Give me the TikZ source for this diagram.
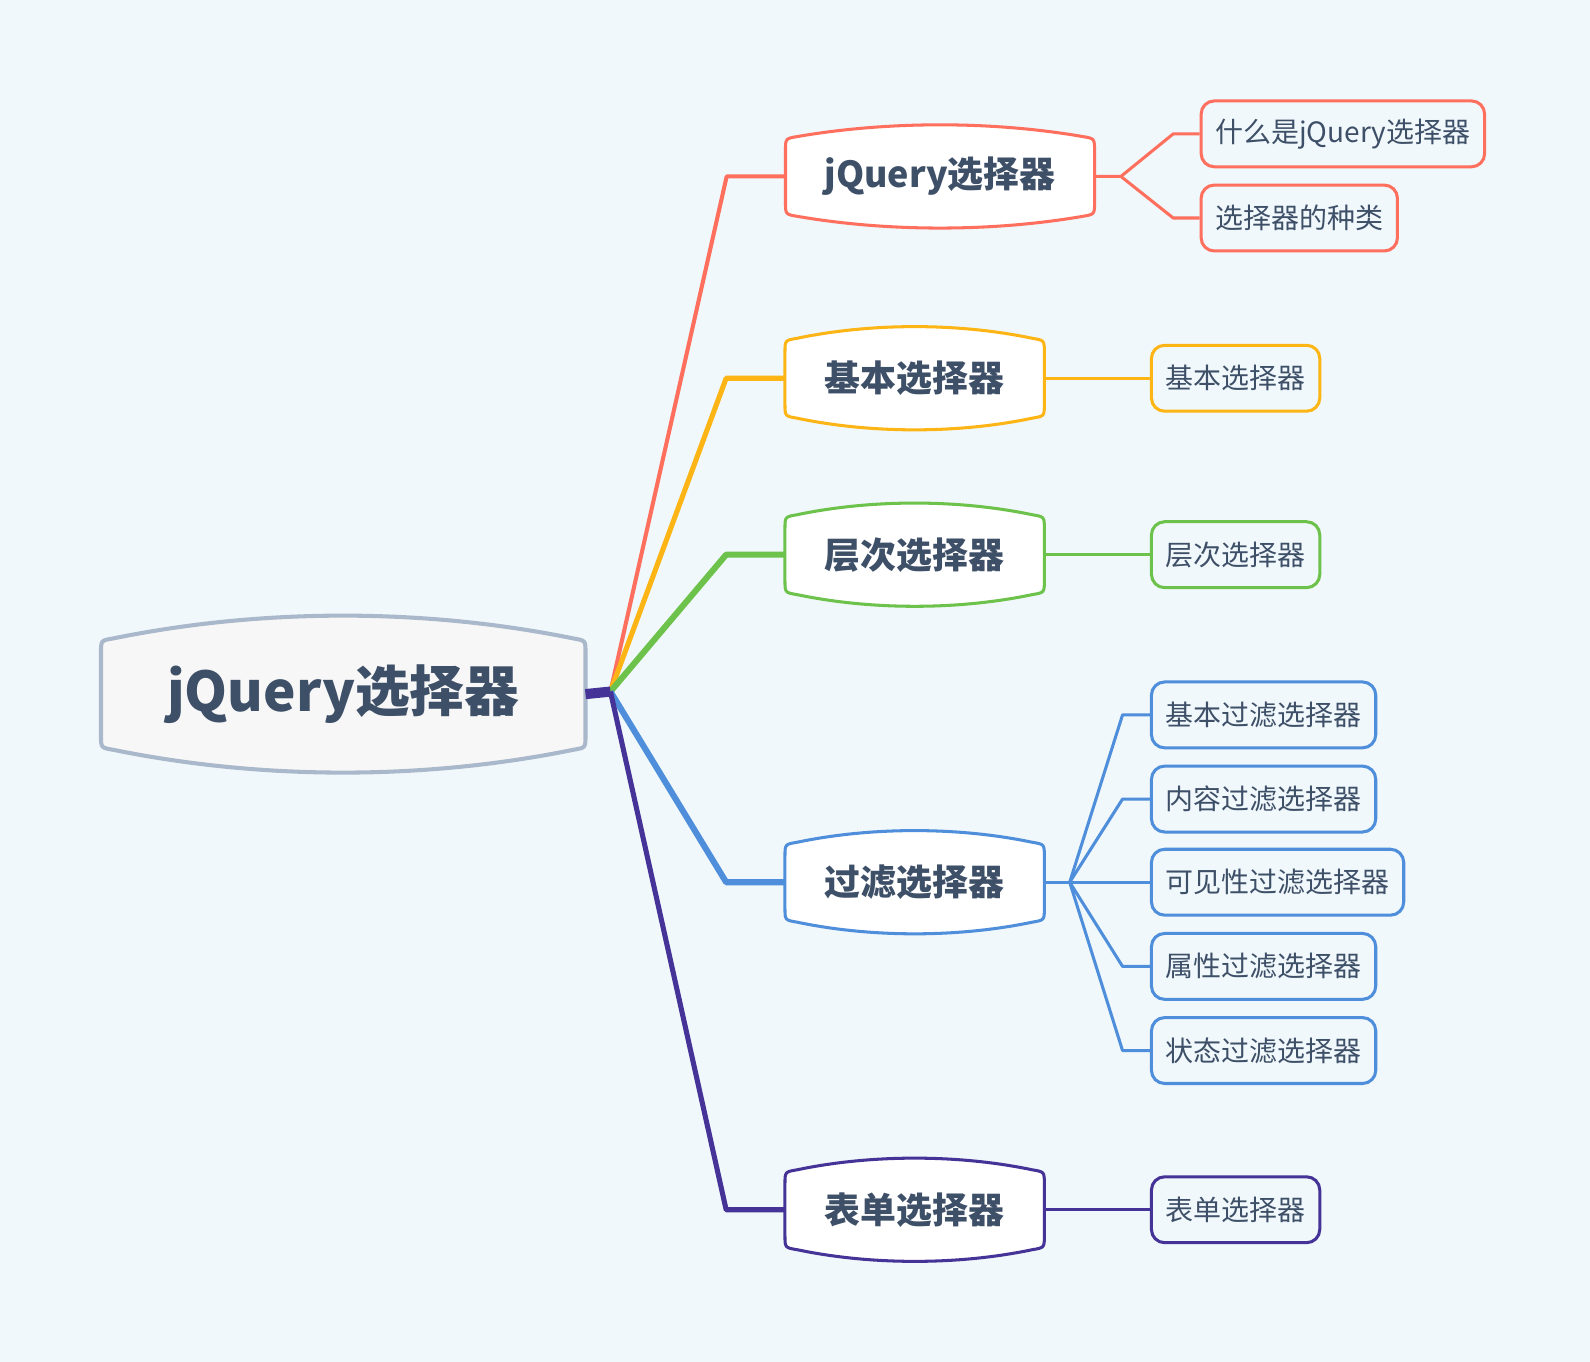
\documentclass[tikz,border=0pt]{standalone}
\usepackage{fontspec}
\setmainfont{Noto Sans CJK SC}
\usetikzlibrary{calc,backgrounds}
\definecolor{fpage}{HTML}{F0F8FB}
\definecolor{froot}{HTML}{F7F7F7}
\definecolor{sroot}{HTML}{A9B8CA}
\definecolor{ink}{HTML}{3E4F68}
\definecolor{sred}{HTML}{FF6F5E}
\definecolor{sorange}{HTML}{FDB515}
\definecolor{sgreen}{HTML}{6CC24A}
\definecolor{sblue}{HTML}{4E8EDA}
\definecolor{spurple}{HTML}{453397}

\newcommand{\bubble}[3]{%
  \draw[#3] let \p1=(#1.north west), \p2=(#1.south east),
      \p4=($(#1.north west)!0.333!(#1.north east)$), \p5=($(#1.north west)!0.667!(#1.north east)$) in
    (\x1,\y1-6pt) -- (\x1,\y2+6pt) .. controls (\x1,\y2) .. (\x1+6pt,\y2-1pt)
    .. controls (\x4,\y2-1.333*#2) and (\x5,\y2-1.333*#2) .. (\x2-6pt,\y2-1pt)
    .. controls (\x2,\y2) .. (\x2,\y2+6pt) -- (\x2,\y1-6pt)
    .. controls (\x2,\y1) .. (\x2-6pt,\y1+1pt)
    .. controls (\x5,\y1+1.333*#2) and (\x4,\y1+1.333*#2) .. (\x1+6pt,\y1+1pt)
    .. controls (\x1,\y1) .. cycle;}

\tikzset{
  rootbox/.style={minimum width=238.5pt,minimum height=52.5pt,inner sep=0pt,text=ink,font=\fontsize{27pt}{32pt}\selectfont\bfseries},
  topicbox/.style={minimum width=#1,minimum height=37pt,inner sep=0pt,text=ink,font=\fontsize{17.7pt}{21pt}\selectfont\bfseries},
  topicbox/.default=127.5pt,
  leafbox/.style={draw=#1,line width=1.5pt,rounded corners=6.5pt,minimum height=32.5pt,inner xsep=7pt,inner ysep=0pt,anchor=west,text=ink,font=\fontsize{13.8pt}{16pt}\selectfont},
  branch/.style={draw=#1,line width=2.5pt,line join=round},
  twig/.style={draw=#1,line width=1.5pt,line join=round}
}

\begin{document}
\begin{tikzpicture}[x=0.5pt,y=-0.5pt]
\useasboundingbox (0,0) rectangle (1568,1343);
\node[rootbox] (root) at (338.5,684.5) {jQuery选择器};
\node[topicbox=152pt] (sel) at (927,174) {jQuery选择器};
\node[topicbox] (basic) at (902,373) {基本选择器};
\node[topicbox] (level) at (902,547) {层次选择器};
\node[topicbox] (filter) at (902,870) {过滤选择器};
\node[topicbox] (form) at (902,1193) {表单选择器};
\node[leafbox=sred] (what) at (1183,132) {什么是jQuery选择器};
\node[leafbox=sred] (kinds) at (1183,215) {选择器的种类};
\node[leafbox=sorange] (basicl) at (1134,373) {基本选择器};
\node[leafbox=sgreen] (levell) at (1134,547) {层次选择器};
\node[leafbox=sblue] (fbasic) at (1134,705) {基本过滤选择器};
\node[leafbox=sblue] (fcontent) at (1134,788) {内容过滤选择器};
\node[leafbox=sblue] (fvisible) at (1134,870) {可见性过滤选择器};
\node[leafbox=sblue] (fattr) at (1134,953) {属性过滤选择器};
\node[leafbox=sblue] (fstate) at (1134,1036) {状态过滤选择器};
\node[leafbox=spurple] (forml) at (1134,1193) {表单选择器};
\begin{scope}[on background layer]
\fill[fpage] (0,0) rectangle (1568,1343);
\bubble{root}{12pt}{fill=froot,draw=sroot,line width=2pt}
\bubble{sel}{6.5pt}{fill=white,draw=sred,line width=1.5pt}
\bubble{basic}{6.5pt}{fill=white,draw=sorange,line width=1.5pt}
\bubble{level}{6.5pt}{fill=white,draw=sgreen,line width=1.5pt}
\bubble{filter}{6.5pt}{fill=white,draw=sblue,line width=1.5pt}
\bubble{form}{6.5pt}{fill=white,draw=spurple,line width=1.5pt}
\end{scope}
\coordinate (hub) at (602,682);
\draw[branch=sred,line width=2pt] (hub) -- ([xshift=-29pt]sel.west) -- (sel.west);
\draw[branch=sorange] (hub) -- ([xshift=-29pt]basic.west) -- (basic.west);
\draw[branch=sgreen,line width=3pt] (hub) -- ([xshift=-29pt]level.west) -- (level.west);
\draw[branch=sblue,line width=3pt] (hub) -- ([xshift=-29pt]filter.west) -- (filter.west);
\draw[branch=spurple,line width=5pt] (root.east) -- (hub);
\draw[branch=spurple] (hub) -- ([xshift=-29pt]form.west) -- (form.west);
\coordinate (selfork) at ([xshift=13pt]sel.east);
\draw[twig=sred] (sel.east) -- (selfork) -- ([xshift=-13pt]what.west) -- (what.west);
\draw[twig=sred] (selfork) -- ([xshift=-13pt]kinds.west) -- (kinds.west);
\draw[twig=sorange] (basic.east) -- (basicl.west);
\draw[twig=sgreen] (level.east) -- (levell.west);
\coordinate (filterfork) at ([xshift=12.5pt]filter.east);
\draw[twig=sblue] (filter.east) -- (filterfork) -- (fvisible.west);
\foreach \leaf in {fbasic,fcontent,fattr,fstate}
  \draw[twig=sblue] (filterfork) -- ([xshift=-13.5pt]\leaf.west) -- (\leaf.west);
\draw[twig=spurple] (form.east) -- (forml.west);
\end{tikzpicture}
\end{document}
